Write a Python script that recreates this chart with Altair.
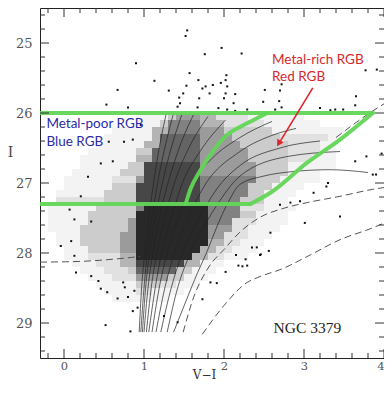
import altair as alt
import pandas as pd

# ---------------- axes / layout ----------------
X_DOMAIN = [-0.3, 4.0]
Y_DOMAIN = [24.5, 29.5]
W, H = 344, 350

x_major = [0, 1, 2, 3, 4]
x_minor = [-0.2, 0.2, 0.4, 0.6, 0.8, 1.2, 1.4, 1.6, 1.8, 2.2, 2.4, 2.6, 2.8,
           3.2, 3.4, 3.6, 3.8]
y_major = [25, 26, 27, 28, 29]
y_minor = [24.6, 24.8, 25.2, 25.4, 25.6, 25.8, 26.2, 26.4, 26.6, 26.8, 27.2,
           27.4, 27.6, 27.8, 28.2, 28.4, 28.6, 28.8, 29.2, 29.4]

# ---------------- star density ----------------
# rows start at I=26.0 in 0.1 mag steps; each row: runs of (level, n cells of 0.1 in V-I) from V-I=-0.3
density_vi0 = -0.3
density_i0 = 26.0
cell = 0.1
density_runs = [
    [(0, 12), (1, 4), (3, 1), (5, 3), (4, 2), (2, 4), (1, 7)],
    [(0, 12), (1, 3), (3, 1), (6, 4), (4, 3), (2, 5), (1, 7)],
    [(0, 9), (1, 5), (4, 2), (6, 4), (5, 3), (3, 6), (1, 9)],
    [(0, 8), (1, 6), (4, 1), (7, 5), (5, 4), (3, 6), (2, 6), (1, 2)],
    [(0, 7), (1, 6), (4, 2), (7, 5), (5, 5), (3, 6), (2, 4), (1, 2)],
    [(0, 6), (1, 6), (3, 2), (7, 6), (5, 6), (3, 5), (2, 4), (1, 2)],
    [(0, 5), (1, 7), (4, 2), (7, 6), (5, 6), (3, 5), (2, 3), (1, 3)],
    [(0, 5), (1, 6), (3, 2), (8, 7), (5, 7), (3, 4), (1, 6)],
    [(0, 4), (1, 6), (3, 3), (8, 7), (5, 7), (3, 4), (1, 4)],
    [(0, 3), (1, 6), (2, 3), (5, 1), (8, 7), (6, 7), (3, 3), (1, 5)],
    [(0, 3), (1, 6), (3, 3), (8, 8), (6, 6), (3, 3), (1, 4)],
    [(0, 2), (1, 6), (3, 4), (8, 8), (6, 6), (3, 2), (1, 4)],
    [(0, 2), (2, 6), (3, 4), (8, 8), (6, 5), (3, 3), (1, 3)],
    [(0, 1), (1, 6), (3, 5), (6, 1), (9, 8), (6, 4), (2, 3), (1, 4)],
    [(0, 1), (1, 5), (3, 6), (9, 9), (6, 4), (3, 2), (1, 4)],
    [(0, 1), (1, 5), (3, 5), (5, 1), (9, 9), (6, 3), (2, 3), (1, 4)],
    [(0, 1), (1, 4), (3, 6), (5, 1), (9, 9), (5, 3), (2, 2), (1, 4)],
    [(0, 2), (1, 3), (3, 5), (5, 2), (9, 9), (5, 2), (2, 3), (1, 3)],
    [(0, 2), (1, 3), (3, 5), (5, 2), (9, 9), (4, 2), (2, 2), (1, 3)],
    [(0, 3), (1, 3), (3, 4), (5, 2), (9, 8), (4, 2), (2, 2), (1, 3)],
    [(0, 3), (1, 3), (2, 4), (4, 2), (9, 7), (4, 2), (2, 2), (1, 3)],
    [(0, 4), (1, 3), (2, 3), (4, 2), (8, 6), (4, 2), (1, 3)],
    [(0, 5), (1, 3), (2, 3), (3, 1), (7, 5), (3, 2), (1, 3)],
    [(0, 6), (1, 3), (2, 3), (5, 4), (3, 2), (1, 3)],
    [(0, 7), (1, 5), (3, 3), (2, 2), (1, 3)],
    [(0, 8), (1, 4), (2, 2), (1, 4)],
    [(0, 9), (1, 7)],
]

# individual stars outside the dense cloud (V-I, I)
stars = [
    (1.54, 24.82), (1.52, 24.90), (0.90, 25.29), (1.97, 25.07), (1.76, 25.16),
    (2.22, 25.15), (1.57, 25.43), (1.13, 25.54), (0.67, 25.67), (1.31, 25.68),
    (1.53, 25.61), (1.68, 25.53), (1.77, 25.62), (1.73, 25.65), (1.86, 25.60),
    (1.96, 25.57), (2.02, 25.53), (2.03, 25.46), (2.04, 25.62), (2.02, 25.72),
    (2.14, 25.73), (2.00, 25.79), (1.82, 25.72), (1.69, 25.79), (1.49, 25.72),
    (1.44, 25.78), (1.45, 25.86), (1.42, 25.91), (0.53, 25.88), (0.80, 25.92),
    (1.67, 25.92), (1.93, 25.93), (2.04, 25.95), (2.14, 25.97), (2.29, 25.95),
    (2.49, 25.84), (2.51, 25.67), (2.70, 25.68), (2.69, 25.83), (2.72, 25.92),
    (2.64, 25.95), (2.72, 25.59), (3.91, 25.38), (3.77, 25.39), (3.65, 25.76),
    (3.64, 25.89), (3.20, 25.93), (3.33, 25.96), (3.49, 25.95), (3.39, 25.95),
    (2.12, 25.86),
    (3.78, 26.62), (3.97, 26.58), (3.64, 26.69), (3.86, 26.88), (3.90, 26.88),
    (3.30, 27.00), (3.28, 27.05), (3.45, 27.48), (3.01, 27.57), (2.58, 27.71),
    (2.35, 27.92), (2.41, 27.92), (2.46, 28.02), (2.27, 28.09), (2.70, 27.31),
    (2.83, 27.28), (2.95, 27.26), (3.12, 27.14),
    (0.15, 28.28), (0.34, 28.33), (0.43, 28.40), (0.46, 28.51), (0.54, 28.56),
    (0.67, 28.65), (0.52, 29.03), (0.86, 28.83), (0.83, 29.12), (0.76, 28.49),
    (0.88, 28.54), (1.91, 28.43), (2.02, 28.27), (2.18, 28.18), (2.29, 28.18),
    (1.42, 28.99), (1.73, 28.66), (1.83, 28.42), (2.15, 28.03), (2.23, 28.19),
    (2.45, 28.03), (2.56, 27.97), (0.74, 28.42), (0.80, 28.63), (0.92, 28.78),
    (1.25, 28.90),
    (-0.04, 27.90), (0.09, 27.83), (0.13, 28.04), (0.61, 26.69), (0.75, 26.41),
    (0.86, 26.38), (0.56, 26.41), (0.46, 26.72), (0.30, 26.91), (0.21, 27.19),
    (0.07, 27.38), (0.13, 27.52), (0.34, 27.55), (0.96, 26.17),
]

# ---------------- isochrones (V-I, I) ----------------
iso_solid = [
    [(0.94, 29.13), (0.97, 28.5), (1.01, 28.0), (1.06, 27.5), (1.12, 27.0), (1.19, 26.5), (1.28, 26.0)],
    [(0.96, 29.13), (1.00, 28.5), (1.04, 28.0), (1.10, 27.5), (1.17, 27.0), (1.26, 26.5), (1.37, 26.0)],
    [(0.98, 29.13), (1.02, 28.5), (1.07, 28.0), (1.14, 27.5), (1.23, 27.0), (1.34, 26.5), (1.48, 26.0)],
    [(1.00, 29.13), (1.05, 28.5), (1.11, 28.0), (1.19, 27.5), (1.30, 27.0), (1.44, 26.5), (1.62, 26.02)],
    [(1.03, 29.13), (1.09, 28.5), (1.16, 28.0), (1.26, 27.5), (1.38, 27.0), (1.56, 26.5), (1.80, 26.05)],
    [(1.06, 29.13), (1.14, 28.5), (1.22, 28.0), (1.34, 27.5), (1.48, 27.0), (1.70, 26.55), (2.02, 26.1)],
    [(1.10, 29.13), (1.19, 28.5), (1.29, 28.0), (1.43, 27.5), (1.60, 27.0), (1.85, 26.65), (2.20, 26.35), (2.60, 26.12)],
    [(1.15, 29.13), (1.26, 28.5), (1.38, 28.0), (1.55, 27.5), (1.75, 27.05), (2.20, 26.55), (2.60, 26.32), (2.90, 26.22)],
    [(1.21, 29.13), (1.34, 28.5), (1.48, 28.0), (1.67, 27.55), (1.90, 27.1), (2.20, 26.75), (2.70, 26.5), (3.20, 26.4)],
    [(1.29, 29.13), (1.42, 28.5), (1.58, 28.0), (1.76, 27.6), (1.95, 27.25), (2.20, 26.9), (2.80, 26.62), (3.45, 26.55)],
    [(1.37, 29.13), (1.52, 28.7), (1.67, 28.28), (1.78, 28.0), (1.92, 27.6), (2.05, 27.28), (2.20, 27.02),
     (2.50, 26.9), (2.83, 26.84), (3.32, 26.81), (3.80, 26.85)],
]
iso_dashed = [
    [(1.49, 29.13), (1.60, 28.7), (1.81, 28.2), (2.00, 27.95), (2.20, 27.7), (2.45, 27.49), (2.75, 27.36),
     (3.04, 27.28), (3.45, 27.19), (3.86, 27.09), (4.10, 27.05)],
    [(1.73, 29.16), (2.00, 28.75), (2.29, 28.42), (2.42, 28.35), (2.74, 28.22), (3.04, 28.05), (3.45, 27.81),
     (3.86, 27.64), (4.10, 27.52)],
    [(3.40, 26.35), (3.86, 25.97), (4.10, 25.8)],
    [(-0.30, 28.13), (0.20, 28.12), (0.60, 28.09), (0.95, 28.05)],
]

# ---------------- selection boxes (green) ----------------
green_segments = [
    [(-0.30, 26.0), (3.86, 26.0)],
    [(-0.30, 27.3), (2.33, 27.3)],
    [(1.52, 27.3), (1.58, 27.09), (1.71, 26.81), (1.87, 26.53), (2.04, 26.31), (2.20, 26.2), (2.37, 26.1), (2.54, 26.0)],
    [(2.33, 27.3), (2.58, 27.14), (3.04, 26.71), (3.45, 26.38), (3.86, 26.0)],
]

arrow_start = (3.11, 25.64)
arrow_end = (2.70, 26.41)
arrow_head = (2.685, 26.435)

labels = [
    ("Metal-rich RGB", 2.60, 25.24, "#d8282c"),
    ("Red RGB", 2.60, 25.48, "#d8282c"),
    ("Metal-poor RGB", -0.22, 26.16, "#2b2ba6"),
    ("Blue RGB", -0.22, 26.42, "#2b2ba6"),
]
galaxy = ("NGC 3379", 2.62, 29.07)

# ---------------- build tables ----------------
xs = alt.Scale(domain=X_DOMAIN, nice=False, zero=False)
ys = alt.Scale(domain=Y_DOMAIN, nice=False, zero=False, reverse=True)

cells = []
for r, runs in enumerate(density_runs):
    c = 0
    for level, n in runs:
        for _ in range(n):
            if level > 0:
                v0 = round(density_vi0 + cell * c, 2)
                i0 = round(density_i0 + cell * r, 2)
                cells.append(dict(vi=v0, vi2=round(v0 + cell, 2), mi=i0, mi2=round(i0 + cell, 2), level=level))
            c += 1
dens = pd.DataFrame(cells)


def lines_df(lines):
    out = []
    for k, pts in enumerate(lines):
        for j, (v, m) in enumerate(pts):
            out.append(dict(line=k, idx=j, vi=v, mi=m))
    return pd.DataFrame(out)


solid_df = lines_df(iso_solid)
dashed_df = lines_df(iso_dashed)
green_df = lines_df(green_segments)
stars_df = pd.DataFrame(stars, columns=["vi", "mi"])
arrow_df = pd.DataFrame([dict(vi=arrow_start[0], mi=arrow_start[1], vi2=arrow_end[0], mi2=arrow_end[1])])
head_df = pd.DataFrame([dict(vi=arrow_head[0], mi=arrow_head[1])])
labels_df = pd.DataFrame(labels, columns=["text", "vi", "mi", "col"])
galaxy_df = pd.DataFrame([dict(text=galaxy[0], vi=galaxy[1], mi=galaxy[2])])

SERIF = "DejaVu Serif"

x_axis = alt.Axis(values=x_major, format="d", title="V−I", ticks=False, domain=False, grid=False,
                  labelFont=SERIF, labelFontSize=11.5, labelColor="#555", labelPadding=2, labelFlush=True,
                  titleFont=SERIF, titleFontSize=12, titleFontWeight="normal", titleColor="#333",
                  titleX=164, titleY=20, titleAlign="center", titleBaseline="alphabetic")
y_axis = alt.Axis(values=y_major, format="d", title="I", ticks=False, domain=False, grid=False,
                  labelFont=SERIF, labelFontSize=13, labelColor="#555", labelPadding=8,
                  titleFont=SERIF, titleFontSize=14, titleFontWeight="normal", titleColor="#444",
                  titleAngle=0, titleX=-30, titleY=144, titleAlign="center", titleBaseline="middle")


def X(field):
    return alt.X(field, scale=xs, axis=x_axis)


def Y(field):
    return alt.Y(field, scale=ys, axis=y_axis)


density_layer = alt.Chart(dens).mark_rect(color="#111", strokeWidth=0).encode(
    x=X("vi:Q"),
    x2="vi2:Q",
    y=Y("mi:Q"),
    y2="mi2:Q",
    opacity=alt.Opacity("level:Q", scale=alt.Scale(type="pow", exponent=1.3, domain=[0, 9], range=[0, 0.9]),
                        legend=None),
)

solid_layer = alt.Chart(solid_df).mark_line(color="#222", strokeWidth=0.7, interpolate="monotone", clip=True).encode(
    x=X("vi:Q"), y=Y("mi:Q"), detail="line:N", order="idx:Q",
)

dashed_layer = alt.Chart(dashed_df).mark_line(color="#555", strokeWidth=1, strokeDash=[7, 4],
                                              interpolate="monotone", clip=True).encode(
    x=X("vi:Q"), y=Y("mi:Q"), detail="line:N", order="idx:Q",
)

stars_layer = alt.Chart(stars_df).mark_square(size=4, color="#111", opacity=1, clip=True).encode(
    x=X("vi:Q"), y=Y("mi:Q"),
)

green_layer = alt.Chart(green_df).mark_line(color="#62d655", strokeWidth=4, strokeCap="round",
                                            interpolate="monotone", clip=True, opacity=0.95).encode(
    x=X("vi:Q"), y=Y("mi:Q"), detail="line:N", order="idx:Q",
)

arrow_layer = alt.Chart(arrow_df).mark_rule(color="#e0242a", strokeWidth=1.6).encode(
    x=X("vi:Q"), y=Y("mi:Q"), x2="vi2:Q", y2="mi2:Q",
)
head_layer = alt.Chart(head_df).mark_point(shape="triangle-up", size=55, filled=True, color="#e0242a",
                                           angle=211, opacity=1).encode(
    x=X("vi:Q"), y=Y("mi:Q"),
)

labels_layer = alt.Chart(labels_df).mark_text(font="Lato", fontSize=13.5, align="left", baseline="middle").encode(
    x=X("vi:Q"), y=Y("mi:Q"), text="text:N", color=alt.Color("col:N", scale=None),
)

galaxy_layer = alt.Chart(galaxy_df).mark_text(font="Liberation Serif", fontSize=15.5, align="left",
                                              baseline="middle", color="#222").encode(
    x=X("vi:Q"), y=Y("mi:Q"), text="text:N",
)


def xticks(vals, length, top):
    df = pd.DataFrame({"v": vals})
    y0, y1 = (0, length) if top else (H, H - length)
    return alt.Chart(df).mark_rule(color="#333", strokeWidth=1).encode(
        x=X("v:Q"), y=alt.value(y0), y2=alt.value(y1))


def yticks(vals, length, left):
    df = pd.DataFrame({"v": vals})
    x0, x1 = (0, length) if left else (W, W - length)
    return alt.Chart(df).mark_rule(color="#333", strokeWidth=1).encode(
        y=Y("v:Q"), x=alt.value(x0), x2=alt.value(x1))


tick_layers = [
    xticks(x_major, 9, True), xticks(x_minor, 5, True),
    xticks(x_major, 9, False), xticks(x_minor, 5, False),
    yticks(y_major, 9, True), yticks(y_minor, 5, True),
    yticks(y_major, 9, False), yticks(y_minor, 5, False),
]

chart = alt.layer(
    density_layer, solid_layer, dashed_layer, stars_layer, green_layer,
    arrow_layer, head_layer, labels_layer, galaxy_layer, *tick_layers,
).properties(
    width=W, height=H,
    padding={"left": 32, "top": 0, "right": 0, "bottom": 25},
    autosize=alt.AutoSizeParams(type="none"),
    background="white",
).configure_view(stroke="#222", strokeWidth=1)

chart.save("out.html", embed_options={"renderer": "svg", "actions": False})
